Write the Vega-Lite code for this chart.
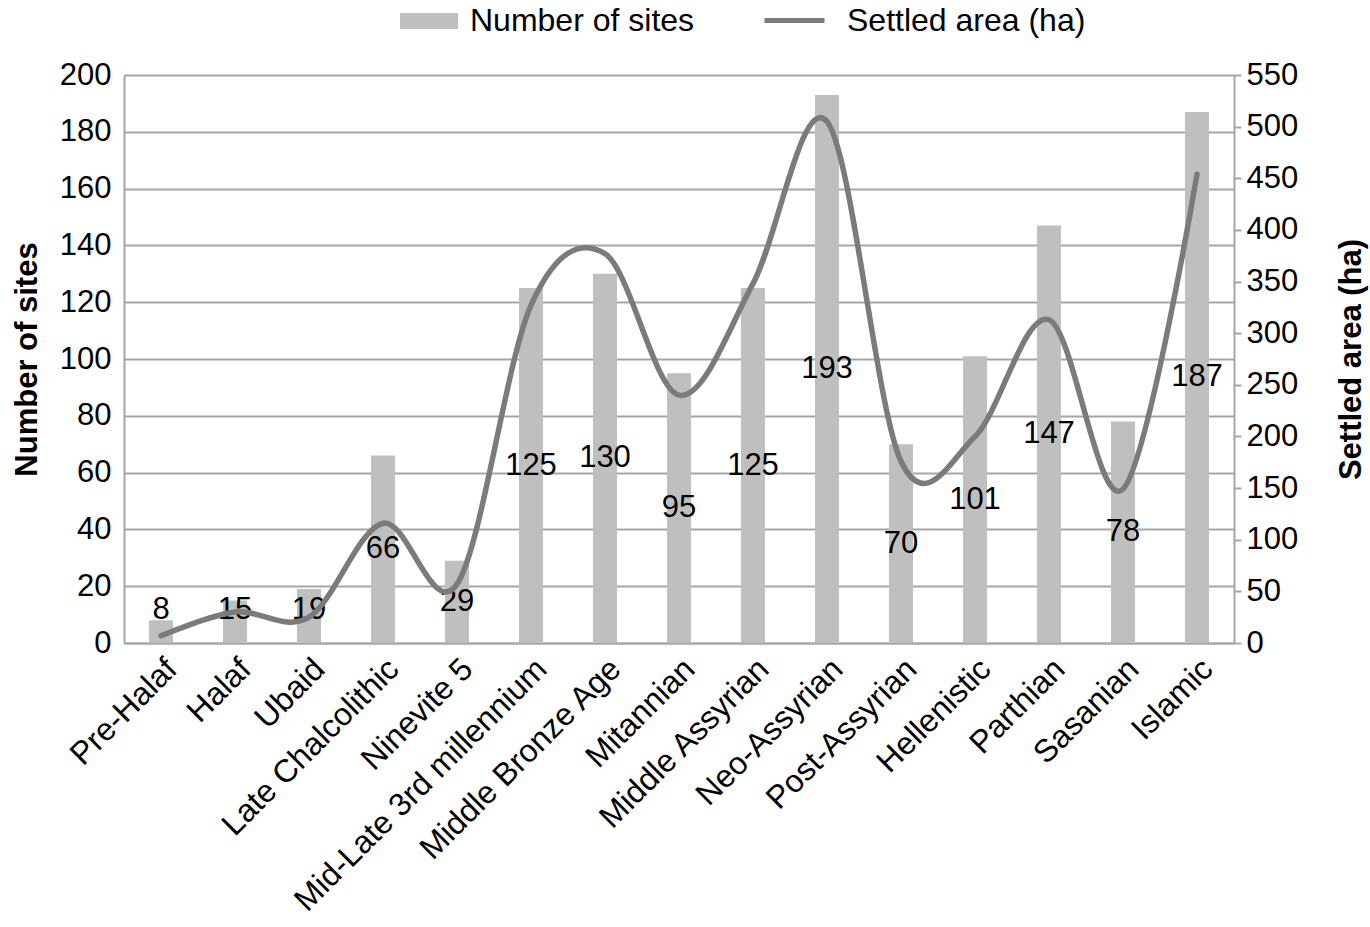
{
  "$schema": "https://vega.github.io/schema/vega-lite/v6.json",
  "width": 1110,
  "height": 568,
  "autosize": "none",
  "padding": {"left": 124, "top": 75, "right": 136, "bottom": 284},
  "background": "white",
  "config": {
    "font": "Liberation Sans",
    "view": {"stroke": null},
    "legend": {"padding": 0}
  },
  "data": {
    "values": [
      {"period": "Pre-Halaf", "sites": 8, "area": 7},
      {"period": "Halaf", "sites": 15, "area": 30},
      {"period": "Ubaid", "sites": 19, "area": 25},
      {"period": "Late Chalcolithic", "sites": 66, "area": 116},
      {"period": "Ninevite 5", "sites": 29, "area": 57},
      {"period": "Mid-Late 3rd millennium", "sites": 125, "area": 327},
      {"period": "Middle Bronze Age", "sites": 130, "area": 377},
      {"period": "Mitannian", "sites": 95, "area": 240},
      {"period": "Middle Assyrian", "sites": 125, "area": 348},
      {"period": "Neo-Assyrian", "sites": 193, "area": 505},
      {"period": "Post-Assyrian", "sites": 70, "area": 176},
      {"period": "Hellenistic", "sites": 101, "area": 200},
      {"period": "Parthian", "sites": 147, "area": 313},
      {"period": "Sasanian", "sites": 78, "area": 149},
      {"period": "Islamic", "sites": 187, "area": 454}
    ]
  },
  "encoding": {
    "x": {
      "field": "period",
      "type": "nominal",
      "sort": null,
      "scale": {"paddingInner": 0.675, "paddingOuter": 0.3375},
      "axis": {
        "title": null,
        "labelAngle": -45,
        "labelFontSize": 32,
        "labelColor": "#000000",
        "labelPadding": 10,
        "labelLimit": 600,
        "ticks": false,
        "domainColor": "#a6a6a6",
        "domainWidth": 2
      }
    }
  },
  "layer": [
    {
      "transform": [{"calculate": "max(datum.sites / 2, 11.5)", "as": "labelPos"}],
      "layer": [
        {
          "mark": {"type": "bar"},
          "encoding": {
            "y": {
              "field": "sites",
              "type": "quantitative",
              "scale": {"domain": [0, 200], "nice": false},
              "axis": {
                "title": "Number of sites",
                "titleFontSize": 31,
                "titleFontWeight": "bold",
                "titleColor": "#000000",
                "titlePadding": 16,
                "labelFontSize": 31,
                "labelColor": "#000000",
                "labelPadding": 13,
                "values": [0, 20, 40, 60, 80, 100, 120, 140, 160, 180, 200],
                "ticks": false,
                "grid": true,
                "gridColor": "#a6a6a6",
                "gridWidth": 2,
                "domainColor": "#a6a6a6",
                "domainWidth": 2
              }
            },
            "fill": {
              "datum": "Number of sites",
              "type": "nominal",
              "scale": {"domain": ["Number of sites"], "range": ["#bfbfbf"]},
              "legend": {
                "orient": "none",
                "legendX": 276,
                "legendY": -83,
                "title": null,
                "symbolType": "M-1,-0.276H1V0.276H-1Z",
                "symbolSize": 3364,
                "symbolStrokeWidth": 0,
                "labelFontSize": 32,
                "labelColor": "#000000",
                "labelOffset": 12,
                "labelLimit": 400
              }
            }
          }
        },
        {
          "mark": {"type": "text", "fontSize": 31, "color": "#000000", "baseline": "middle", "align": "center"},
          "encoding": {
            "y": {"field": "labelPos", "type": "quantitative"},
            "text": {"field": "sites", "type": "quantitative"}
          }
        }
      ]
    },
    {
      "mark": {"type": "line", "interpolate": "cardinal", "strokeWidth": 5.5, "strokeCap": "round"},
      "encoding": {
        "y": {
          "field": "area",
          "type": "quantitative",
          "scale": {"domain": [0, 550], "nice": false},
          "axis": {
            "orient": "right",
            "title": "Settled area (ha)",
            "titleAngle": 270,
            "titleFontSize": 31,
            "titleFontWeight": "bold",
            "titleColor": "#000000",
            "titlePadding": 70,
            "labelFontSize": 31,
            "labelColor": "#000000",
            "labelPadding": 5,
            "values": [0, 50, 100, 150, 200, 250, 300, 350, 400, 450, 500, 550],
            "tickSize": 7,
            "tickColor": "#a6a6a6",
            "tickWidth": 2,
            "grid": false,
            "domainColor": "#a6a6a6",
            "domainWidth": 2
          }
        },
        "stroke": {
          "datum": "Settled area (ha)",
          "type": "nominal",
          "scale": {"domain": ["Settled area (ha)"], "range": ["#7b7b7b"]},
          "legend": {
            "orient": "none",
            "legendX": 638,
            "legendY": -87,
            "title": null,
            "symbolType": "stroke",
            "symbolSize": 3600,
            "symbolStrokeWidth": 5,
            "labelFontSize": 32,
            "labelColor": "#000000",
            "labelOffset": 20,
            "labelLimit": 400
          }
        }
      }
    }
  ],
  "resolve": {"scale": {"y": "independent"}}
}
